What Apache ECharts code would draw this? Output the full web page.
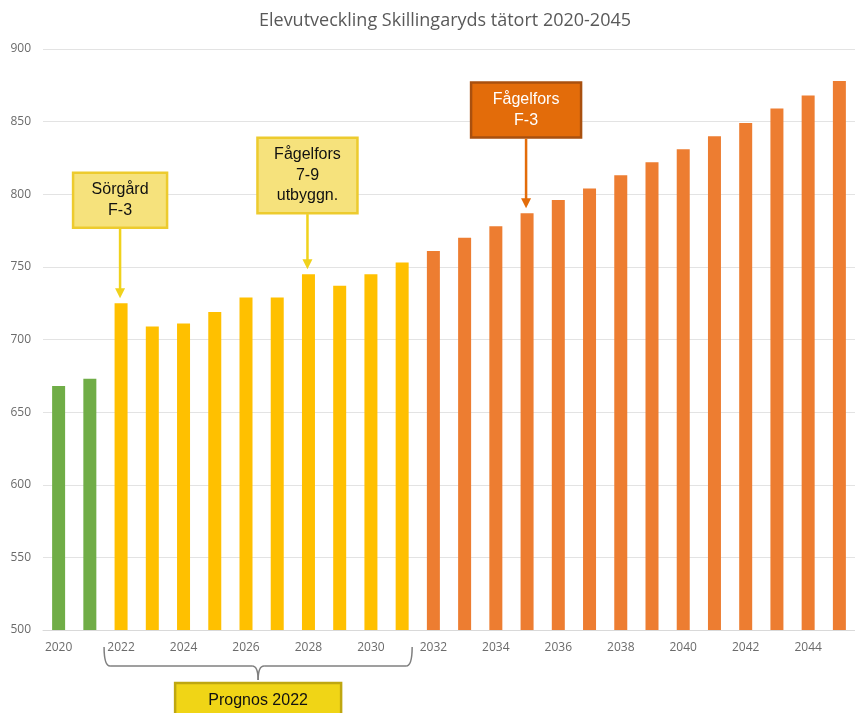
<!DOCTYPE html>
<html>
<head>
<meta charset="utf-8">
<script src="https://cdn.jsdelivr.net/npm/echarts@6/dist/echarts.min.js"></script>
<style>
  html, body { margin: 0; padding: 0; background: #fff; }
  #main { width: 855px; height: 713px; }
</style>
</head>
<body>
<div id="main"></div>
<script>
// data
let years = ['2020', '2021', '2022', '2023', '2024', '2025', '2026', '2027', '2028', '2029', '2030', '2031', '2032',
    '2033', '2034', '2035', '2036', '2037', '2038', '2039', '2040', '2041', '2042', '2043', '2044', '2045'];
let elever = [668, 673, 725, 709, 711, 719, 729, 729, 745, 737, 745, 753, 761,
    770, 778, 787, 796, 804, 813, 822, 831, 840, 849, 859, 868, 878];
// 0 = utfall, 1 = prognos 2022, 2 = framskrivning
let period = [0, 0, 1, 1, 1, 1, 1, 1, 1, 1, 1, 1, 2, 2, 2, 2, 2, 2, 2, 2, 2, 2, 2, 2, 2, 2];
let periodColors = ['#70AD47', '#FFC000', '#ED7D31'];

let annotations = [
    { year: '2022', lines: ['Sörgård', 'F-3'], boxBottom: 777, width: 94, fill: '#F6E27C', stroke: '#EDCB2E', arrow: '#F0D21C', text: '#111' },
    { year: '2028', lines: ['Fågelfors', '7-9', 'utbyggn.'], boxBottom: 787, width: 100, fill: '#F6E27C', stroke: '#EDCB2E', arrow: '#F0D21C', text: '#111' },
    { year: '2035', lines: ['Fågelfors', 'F-3'], boxBottom: 839, width: 110, fill: '#E36C0A', stroke: '#A9500F', arrow: '#E36C0A', text: '#fff' }
];

let chartDom = document.getElementById('main');
let myChart = echarts.init(chartDom);

let option = {
    animation: false,
    title: {
        text: 'Elevutveckling Skillingaryds tätort 2020-2045',
        left: 440,
        top: 7,
        textAlign: 'center',
        textStyle: { color: '#595959', fontSize: 18, fontWeight: 'normal', fontFamily: 'Open Sans' }
    },
    grid: { left: 43, right: -7, top: 49, bottom: 83 },
    xAxis: {
        type: 'category',
        data: years,
        axisTick: { show: false },
        axisLine: { lineStyle: { color: '#D9D9D9' } },
        axisLabel: { interval: 1, color: '#6b6b6b', fontSize: 12, margin: 12, fontFamily: 'Open Sans' }
    },
    yAxis: {
        type: 'value',
        min: 500,
        max: 900,
        interval: 50,
        axisLine: { show: false },
        axisTick: { show: false },
        splitLine: { lineStyle: { color: '#E3E3E3' } },
        axisLabel: { color: '#6b6b6b', fontSize: 12, margin: 12, fontFamily: 'Open Sans' }
    },
    series: [
        {
            type: 'bar',
            data: elever,
            barWidth: 13,
            itemStyle: {
                color: function (p) {
                    return periodColors[period[p.dataIndex]];
                }
            }
        }
    ]
};

myChart.setOption(option);

// callouts and brace placed from the axes
let graphics = [];
annotations.forEach(function (a) {
    let idx = years.indexOf(a.year);
    let top = myChart.convertToPixel({ seriesIndex: 0 }, [idx, elever[idx]]);
    let bottom = myChart.convertToPixel({ seriesIndex: 0 }, [idx, a.boxBottom]);
    let cx = top[0] - 1;
    let lineH = 20.5;
    let h = a.lines.length * lineH + 14;
    let boxTop = bottom[1] - h;
    graphics.push({
        type: 'rect',
        shape: { x: cx - a.width / 2, y: boxTop, width: a.width, height: h },
        style: { fill: a.fill, stroke: a.stroke, lineWidth: 2.5 },
        z: 10
    });
    graphics.push({
        type: 'text',
        x: cx,
        y: boxTop + h / 2,
        style: {
            text: a.lines.join('\n'),
            fill: a.text,
            font: '16px "Liberation Sans"',
            lineHeight: lineH,
            align: 'center',
            verticalAlign: 'middle'
        },
        z: 11
    });
    let tipY = top[1] - 5;
    graphics.push({
        type: 'line',
        shape: { x1: cx, y1: bottom[1] + 1, x2: cx, y2: tipY - 8 },
        style: { stroke: a.arrow, lineWidth: 2.5 },
        z: 10
    });
    graphics.push({
        type: 'polygon',
        shape: { points: [[cx - 5, tipY - 10], [cx + 5, tipY - 10], [cx, tipY]] },
        style: { fill: a.arrow },
        z: 10
    });
});

let x0 = myChart.convertToPixel({ xAxisIndex: 0 }, '2022') - 17;
let x1 = myChart.convertToPixel({ xAxisIndex: 0 }, '2031') + 10;
let xm = (x0 + x1) / 2;
let axisY = myChart.convertToPixel({ yAxisIndex: 0 }, 500);
let yTop = axisY + 17, yMid = axisY + 36, yTip = axisY + 50;
let braceStyle = { stroke: '#7F7F7F', lineWidth: 1.5, fill: null };
let curves = [
    [x0, yTop, x0, yMid, x0 + 6, yMid],
    [xm - 6, yMid, xm, yMid, xm, yTip],
    [xm, yTip, xm, yMid, xm + 6, yMid],
    [x1 - 6, yMid, x1, yMid, x1, yTop]
];
curves.forEach(function (c) {
    graphics.push({
        type: 'bezierCurve',
        shape: { x1: c[0], y1: c[1], cpx1: c[2], cpy1: c[3], x2: c[4], y2: c[5] },
        style: braceStyle,
        z: 10
    });
});
graphics.push({ type: 'line', shape: { x1: x0 + 6, y1: yMid, x2: xm - 6, y2: yMid }, style: braceStyle, z: 10 });
graphics.push({ type: 'line', shape: { x1: xm + 6, y1: yMid, x2: x1 - 6, y2: yMid }, style: braceStyle, z: 10 });
graphics.push({
    type: 'rect',
    shape: { x: xm - 83, y: yTip + 3, width: 166, height: 40 },
    style: { fill: '#F0D516', stroke: '#BFA710', lineWidth: 2.5 },
    z: 10
});
graphics.push({
    type: 'text',
    x: xm,
    y: yTip + 21,
    style: {
        text: 'Prognos 2022',
        fill: '#111',
        font: '16px "Liberation Sans"',
        align: 'center',
        verticalAlign: 'middle'
    },
    z: 11
});

myChart.setOption({ graphic: graphics });
</script>
</body>
</html>
